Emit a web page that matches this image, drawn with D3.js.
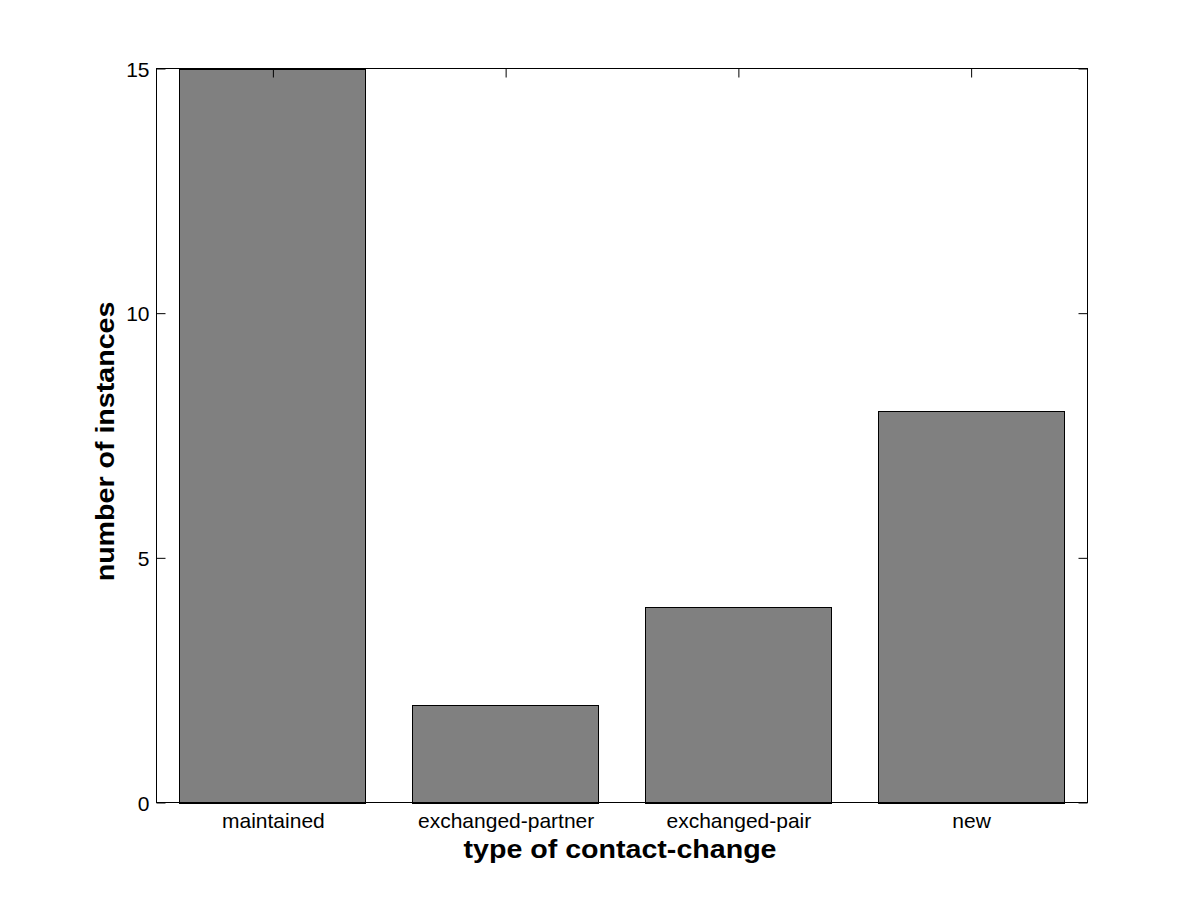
<!DOCTYPE html>
<html>
<head>
<meta charset="utf-8">
<script src="https://cdn.jsdelivr.net/npm/d3@7"></script>
<style>
  html, body { margin: 0; padding: 0; background: #ffffff; }
  svg { display: block; }
</style>
</head>
<body>
<svg id="chart" width="1201" height="901"></svg>
<script>
const categories = ["maintained", "exchanged-partner", "exchanged-pair", "new"];
const values = [15, 2, 4, 8];
const yTicks = [0, 5, 10, 15];
const xLabel = "type of contact-change";
const yLabel = "number of instances";

const svg = d3.select("#chart");
svg.append("rect").attr("width", 1201).attr("height", 901).attr("fill", "#ffffff");

const L = 156.5, R = 1087.5, T = 68.5, B = 802.5;
const x = d3.scaleBand().domain(categories).range([L, R]).paddingInner(0.2).paddingOuter(0.1);
const y = d3.scaleLinear().domain([0, 15]).range([B, T]);
const xc = d3.scalePoint().domain(categories).range([L + x.step() / 2, R - x.step() / 2]);

const font = "'Liberation Sans', Arial, Helvetica, sans-serif";
const tickLen = 9;

// bottom axis first (its tick marks are hidden by bars, like the reference)
const xAxisB = d3.axisBottom(xc).tickSizeInner(-tickLen).tickSizeOuter(0);
const gb = svg.append("g").attr("transform", `translate(0,${B})`).call(xAxisB);

// bars
svg.append("g").selectAll("rect").data(values).join("rect")
  .attr("x", (d, i) => Math.floor(x(categories[i])) + 0.5)
  .attr("y", d => Math.round(y(d)) + 0.5)
  .attr("width", Math.round(x.bandwidth()))
  .attr("height", d => Math.round(y(0)) - Math.round(y(d)))
  .attr("fill", "#808080")
  .attr("stroke", "#000000")
  .attr("stroke-width", 1);

// y axes (left and right), ticks inward
const yAxisL = d3.axisLeft(y).tickValues(yTicks).tickSizeInner(-tickLen).tickSizeOuter(0);
const gl = svg.append("g").attr("transform", `translate(${L},0)`).call(yAxisL);
const yAxisR = d3.axisRight(y).tickValues(yTicks).tickSizeInner(-tickLen).tickSizeOuter(0).tickFormat("");
const gr = svg.append("g").attr("transform", `translate(${R},0)`).call(yAxisR);

// top axis
const xAxisT = d3.axisTop(xc).tickSizeInner(-tickLen).tickSizeOuter(0).tickFormat("");
const gt = svg.append("g").attr("transform", `translate(0,${T})`).call(xAxisT);

[gl, gr, gb, gt].forEach(g => {
  g.select(".domain").remove();
  g.selectAll("line").attr("stroke", "#000").attr("stroke-width", 1);
  g.selectAll("text").attr("fill", "#000").attr("font-family", font).attr("font-size", 21);
});
gl.selectAll(".tick text").attr("x", -7).attr("dy", "0.36em");
gb.selectAll(".tick text").attr("y", 25).attr("dy", 0);

// box
svg.append("rect").attr("x", L).attr("y", T).attr("width", R - L).attr("height", B - T)
  .attr("fill", "none").attr("stroke", "#000").attr("stroke-width", 1);

// axis labels
svg.append("text")
  .attr("transform", `translate(${(L + R) / 2 - 2},858) scale(1.1,1)`)
  .attr("text-anchor", "middle")
  .attr("font-family", font).attr("font-size", 26).attr("font-weight", "bold")
  .attr("fill", "#000")
  .text(xLabel);

svg.append("text")
  .attr("transform", `translate(114,${(T + B) / 2 + 6}) rotate(-90) scale(1.1,1)`)
  .attr("text-anchor", "middle")
  .attr("font-family", font).attr("font-size", 26).attr("font-weight", "bold")
  .attr("fill", "#000")
  .text(yLabel);
</script>
</body>
</html>
